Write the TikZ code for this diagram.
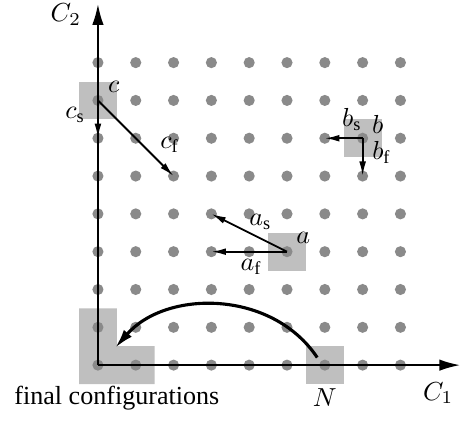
\documentclass[tikz,border=0pt]{standalone}
\usepackage{fontspec}
\setmainfont{Liberation Serif}
\usetikzlibrary{arrows.meta}
\definecolor{dotcol}{gray}{0.54}
\definecolor{boxcol}{gray}{0.75}
\tikzset{
  dot/.style={circle,fill=dotcol,inner sep=0pt,minimum size=0.15cm},
  box/.style={fill=boxcol},
  axis/.style={line width=0.75pt,-{Latex[length=8pt,width=4.4pt]}},
  move/.style={line width=0.7pt,-{Latex[length=5.6pt,width=2.6pt]}},
  jump/.style={line width=1.2pt,-{Latex[length=7.5pt,width=4pt]}},
  lab/.style={inner sep=0pt},
}
\begin{document}
\begin{tikzpicture}[x=0.51cm,y=0.51cm]
  \useasboundingbox (-2.59,-1.455) rectangle (9.84,9.656);
  % highlighted configurations
  \fill[box] (-0.5,6.5) rectangle (0.5,7.5);
  \fill[box] (6.5,5.5) rectangle (7.5,6.5);
  \fill[box] (4.5,2.5) rectangle (5.5,3.5);
  \fill[box] (5.5,-0.5) rectangle (6.5,0.5);
  \fill[box] (-0.5,-0.5) -- (1.5,-0.5) -- (1.5,0.5) -- (0.5,0.5) -- (0.5,1.5) -- (-0.5,1.5) -- cycle;
  % lattice
  \foreach \i in {0,...,8}
    \foreach \j in {0,...,8}
      \node[dot] (d\i\j) at (\i,\j) {};
  % axes
  \coordinate (c1end) at (9.58,0);
  \coordinate (c2end) at (0,9.55);
  \draw[axis] (d00.center) -- (c1end);
  \draw[axis] (d00.center) -- (c2end);
  \node[lab] (c1lab) at (9.0,-0.74) {$C_1$};
  \node[lab] (c2lab) at (-0.85,9.26) {$C_2$};
  % moves
  \draw[move] (d07.center) -- (d06.center);
  \draw[move] (d07.center) -- (d25.center);
  \draw[move] (d76.center) -- (d66.center);
  \draw[move] (d76.center) -- (d75.center);
  \draw[move] (d53.center) -- (d34.center);
  \draw[move] (d53.center) -- (d33.center);
  \node[lab] (clab) at (0.42,7.37) {$c$};
  \node[lab] (cslab) at (-0.6,6.62) {$c_{\mathrm{s}}$};
  \node[lab] (cflab) at (1.9,5.82) {$c_{\mathrm{f}}$};
  \node[lab] (blab) at (7.4,6.36) {$b$};
  \node[lab] (bslab) at (6.72,6.5) {$b_{\mathrm{s}}$};
  \node[lab] (bflab) at (7.5,5.63) {$b_{\mathrm{f}}$};
  \node[lab] (alab) at (5.43,3.36) {$a$};
  \node[lab] (aslab) at (4.3,3.78) {$a_{\mathrm{s}}$};
  \node[lab] (aflab) at (4.05,2.6) {$a_{\mathrm{f}}$};
  % return to final configurations
  \coordinate (nstart) at (5.8,0.2);
  \coordinate (fend) at (0.45,0.45);
  \draw[jump] (nstart) .. controls (4.6,2.0) and (1.8,2.0) .. (fend);
  \node[lab] (nlab) at (6.0,-0.85) {$N$};
  \node[lab] (finlab) at (0.5,-0.87) {final configurations};
\end{tikzpicture}
\end{document}
